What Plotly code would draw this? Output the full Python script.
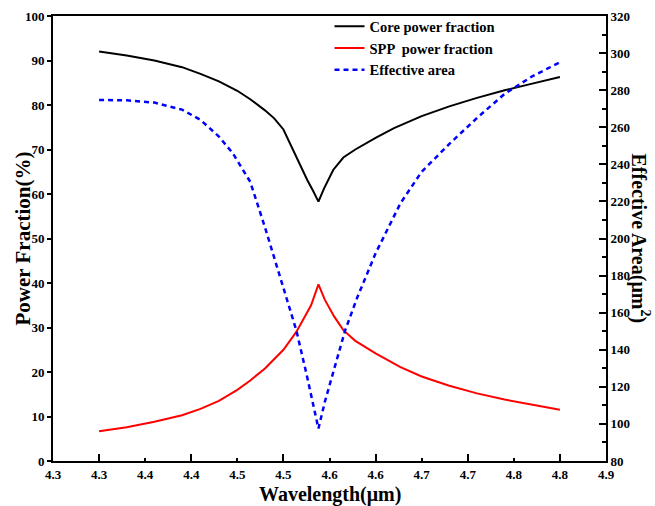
import plotly.graph_objects as go

# ---- data ----
wl_core = [4.30, 4.33, 4.36, 4.39, 4.41, 4.43, 4.45, 4.464, 4.48, 4.49, 4.50, 4.51, 4.518, 4.526, 4.532, 4.538,
           4.544, 4.554, 4.565, 4.578, 4.60, 4.62, 4.65, 4.68, 4.71, 4.74, 4.77, 4.80]
core_frac = [92.0, 91.1, 90.0, 88.5, 87.0, 85.3, 83.2, 81.3, 78.8, 77.0, 74.5, 70.0, 66.5, 63.1, 60.8, 58.3,
             61.2, 65.4, 68.2, 70.0, 72.6, 74.8, 77.5, 79.7, 81.6, 83.3, 84.8, 86.3]

wl_spp = [4.30, 4.33, 4.36, 4.39, 4.41, 4.43, 4.45, 4.464, 4.48, 4.49, 4.50, 4.514, 4.52, 4.53, 4.538,
          4.545, 4.555, 4.565, 4.578, 4.60, 4.627, 4.65, 4.68, 4.71, 4.74, 4.77, 4.80]
spp_frac = [6.7, 7.6, 8.8, 10.3, 11.7, 13.5, 16.0, 18.1, 20.8, 22.8, 25.0, 29.0, 31.3, 35.0, 39.7,
            36.2, 32.5, 29.4, 27.0, 24.2, 21.1, 19.0, 16.9, 15.2, 13.8, 12.6, 11.5]

wl_area = [4.30, 4.33, 4.36, 4.39, 4.41, 4.43, 4.445, 4.464, 4.48, 4.49, 4.50, 4.514, 4.525, 4.538,
           4.545, 4.555, 4.567, 4.58, 4.60, 4.627, 4.65, 4.68, 4.71, 4.74, 4.77, 4.80]
eff_area = [274.7, 274.5, 273.3, 269.5, 264.0, 255.0, 246.0, 230.6, 206.0, 190.0, 174.0, 150.5, 127.0, 97.5,
            112.0, 130.0, 150.5, 168.0, 192.0, 219.0, 236.0, 251.0, 265.0, 278.0, 287.5, 295.0]

x_tick_vals = [4.25, 4.30, 4.35, 4.40, 4.45, 4.50, 4.55, 4.60, 4.65, 4.70, 4.75, 4.80, 4.85]
x_tick_text = ["4.3", "4.3", "4.4", "4.4", "4.5", "4.5", "4.6", "4.6", "4.7", "4.7", "4.8", "4.8", "4.9"]
x_major_marks = [4.30, 4.40, 4.50, 4.60, 4.70, 4.80]

FONT = "Liberation Serif"
TICKFONT = dict(family=FONT, size=13, color="black", weight="bold")

fig = go.Figure()
fig.add_trace(go.Scatter(x=wl_core, y=core_frac, mode="lines", name="<b>Core power fraction</b>",
                         line=dict(color="black", width=2)))
fig.add_trace(go.Scatter(x=wl_spp, y=spp_frac, mode="lines", name="<b>SPP  power fraction</b>",
                         line=dict(color="#ff0000", width=2)))
fig.add_trace(go.Scatter(x=wl_area, y=eff_area, mode="lines", name="<b>Effective area</b>",
                         line=dict(color="#0000ff", width=2.5, dash="5px,4px"), yaxis="y2"))

fig.update_layout(
    width=655, height=506,
    margin=dict(l=53, r=49, t=16, b=45, autoexpand=False),
    paper_bgcolor="white", plot_bgcolor="white",
    font=dict(family=FONT, color="black", size=13),
    showlegend=True,
    legend=dict(x=0.5, y=1.013, xanchor="left", yanchor="top", bgcolor="rgba(0,0,0,0)",
                font=dict(family=FONT, size=14.5, color="black"), tracegroupgap=0,
                itemwidth=30),
    xaxis=dict(range=[4.25, 4.85], tickvals=x_tick_vals, ticktext=["<b>%s</b>" % t for t in x_tick_text],
               ticks="inside", ticklen=3, tickwidth=1.5, tickcolor="black",
               minor=dict(tickvals=x_major_marks, ticks="inside", ticklen=7, tickwidth=1.5, tickcolor="black"),
               showline=True, linewidth=2, linecolor="black", mirror=True,
               showgrid=False, zeroline=False, automargin=False, tickfont=TICKFONT),
    yaxis=dict(range=[0, 100], dtick=10, ticks="outside", ticklen=4, tickwidth=1.5, tickcolor="black",
               tickprefix="<b>", ticksuffix="</b>",
               showline=True, linewidth=2, linecolor="black", showgrid=False, zeroline=False,
               automargin=False, tickfont=TICKFONT),
    yaxis2=dict(range=[80, 320], dtick=20, overlaying="y", side="right",
                ticks="inside", ticklen=7, tickwidth=1.5, tickcolor="black",
                tickprefix="<b>", ticksuffix="</b>",
                minor=dict(dtick=10, ticks="inside", ticklen=4, tickwidth=1.5, tickcolor="black"),
                showline=True, linewidth=2, linecolor="black", showgrid=False, zeroline=False,
                automargin=False, tickfont=TICKFONT),
    annotations=[
        dict(text="<b>Wavelength(μm)</b>", xref="paper", yref="paper", x=0.5, y=0, yshift=-33,
             xanchor="center", yanchor="middle", showarrow=False,
             font=dict(family=FONT, size=20, color="black")),
        dict(text="<b>Power Fraction(%)</b>", textangle=-90, xref="paper", yref="paper",
             x=0, xshift=-31, y=0.5, xanchor="center", yanchor="middle", showarrow=False,
             font=dict(family=FONT, size=21, color="black")),
        dict(text="<b>Effective Area(μm<sup>2</sup>)</b>", textangle=90,
             xref="paper", yref="paper", x=1.0, xshift=34, y=0.5,
             xanchor="center", yanchor="middle", showarrow=False,
             font=dict(family=FONT, size=20, color="black")),
    ],
)

fig.write_html("out.html")
